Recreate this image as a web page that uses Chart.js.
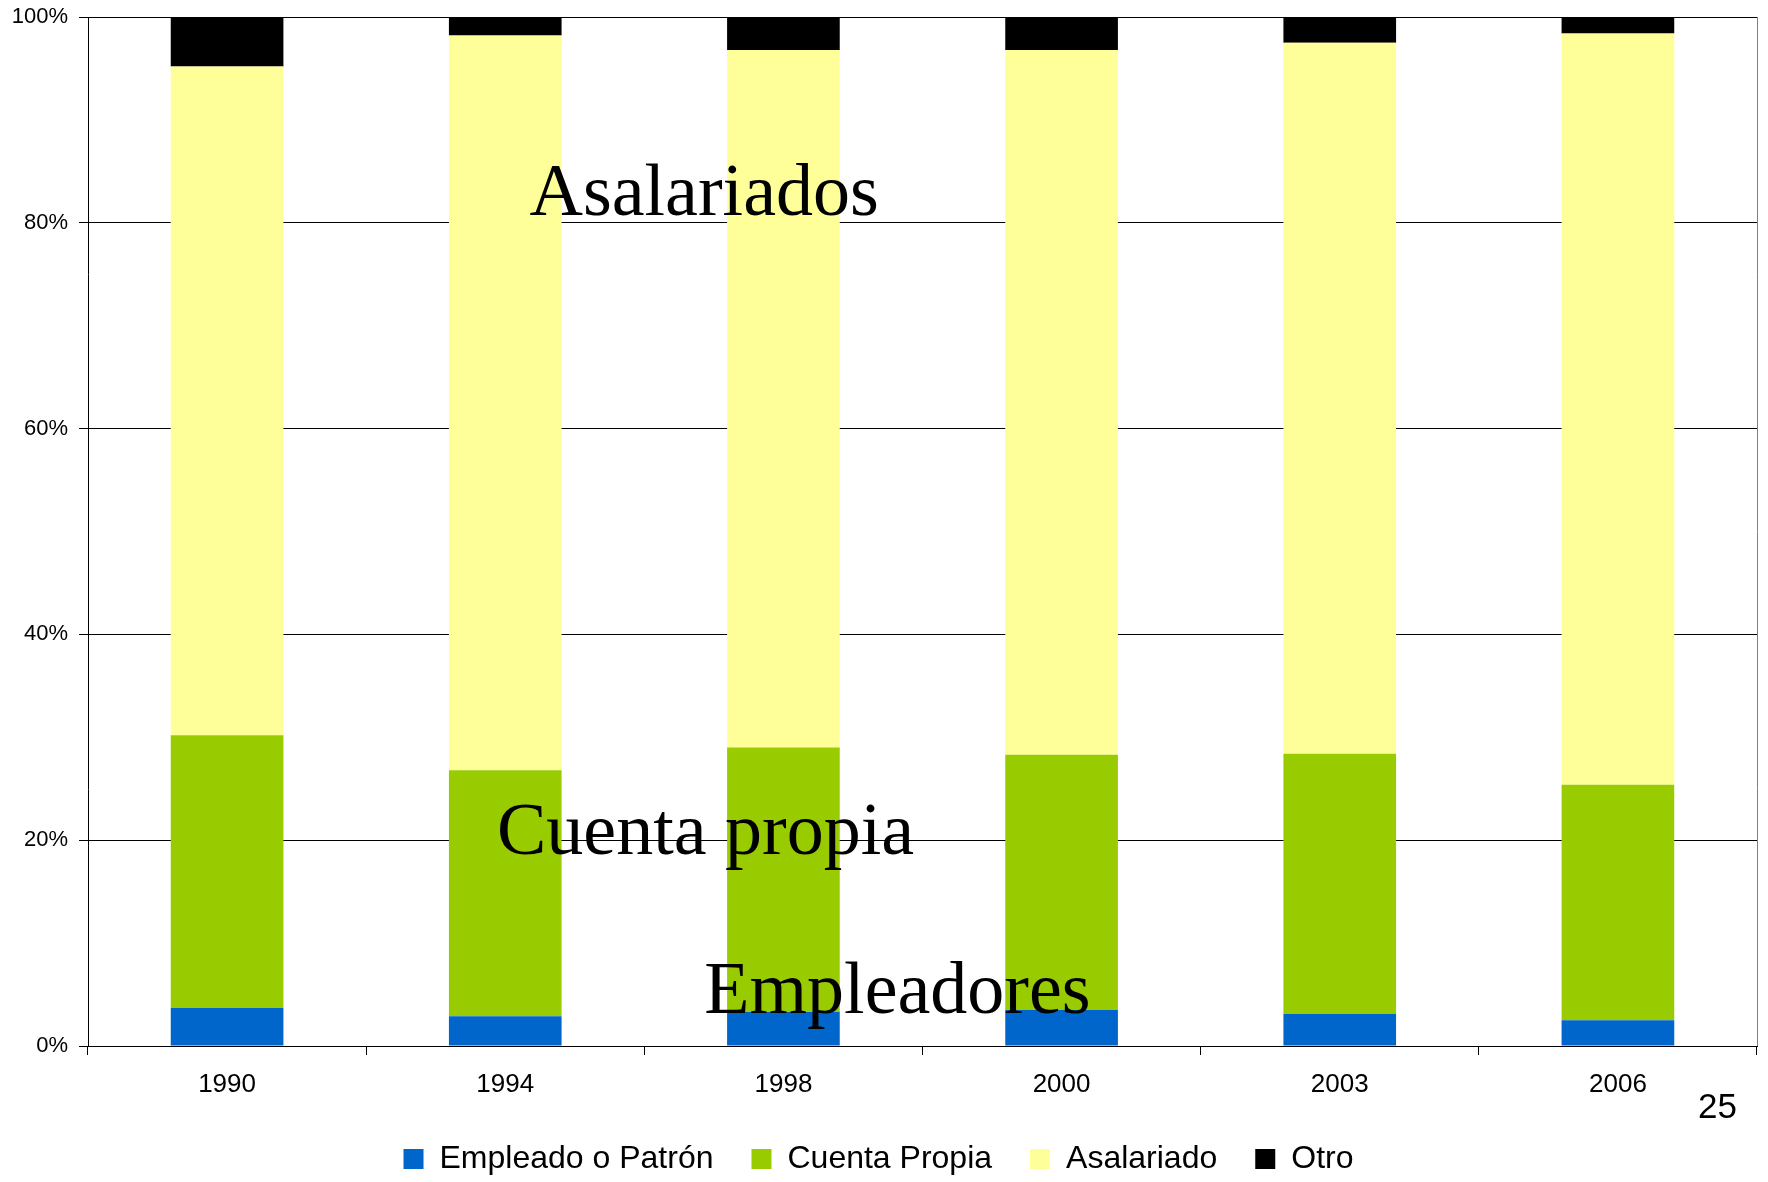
<!DOCTYPE html>
<html>
<head>
<meta charset="utf-8">
<script src="https://cdn.jsdelivr.net/npm/chart.js@4.4.0/dist/chart.umd.min.js"></script>
<style>
html, body { margin: 0; padding: 0; background: #fff; }
</style>
</head>
<body>
<canvas id="barChart" width="1768" height="1182"></canvas>
<script>
// data (percent of total)
const years = ['1990', '1994', '1998', '2000', '2003', '2006'];
const empleado = [3.7, 2.9, 3.3, 3.5, 3.1, 2.5];
const cuentaPropia = [26.5, 23.9, 25.7, 24.8, 25.3, 22.9];
const asalariado = [65.0, 71.4, 67.8, 68.5, 69.1, 73.0];
const otro = [4.8, 1.8, 3.2, 3.2, 2.5, 1.6];
const yTicks = [0, 20, 40, 60, 80, 100];
const notes = ['Asalariados', 'Cuenta propia', 'Empleadores'];
const pageNumber = '25';

// where the big labels sit, in category index / percent
const notePos = [
    { x: 1.715, y: 80.8 },
    { x: 1.72, y: 18.7 },
    { x: 2.41, y: 3.2 }
];

const sans = "'Liberation Sans', Arial, sans-serif";
const serif = "'Liberation Serif', 'Times New Roman', serif";

const extras = {
    id: 'extras',
    afterDatasetsDraw(chart) {
        const ctx = chart.ctx;
        const area = chart.chartArea;
        const xs = chart.scales.x, ys = chart.scales.y;
        ctx.save();
        // right frame line
        ctx.strokeStyle = '#808080';
        ctx.lineWidth = 1;
        ctx.beginPath();
        ctx.moveTo(area.right + 0.5, area.top);
        ctx.lineTo(area.right + 0.5, area.bottom);
        ctx.stroke();
        // big labels
        ctx.fillStyle = '#000';
        ctx.font = '74px ' + serif;
        ctx.textAlign = 'center';
        ctx.textBaseline = 'alphabetic';
        notes.forEach((t, i) => {
            ctx.fillText(t, xs.getPixelForValue(notePos[i].x), ys.getPixelForValue(notePos[i].y));
        });
        // page number
        ctx.font = '35px ' + sans;
        ctx.textAlign = 'right';
        ctx.textBaseline = 'middle';
        ctx.fillText(pageNumber, area.right - 20, area.bottom + 62);
        ctx.restore();
    }
};

const CHART = document.getElementById('barChart');
let barChart = new Chart(CHART, {
    type: 'bar',
    data: {
        labels: years,
        datasets: [
            { label: 'Empleado o Patrón', data: empleado, backgroundColor: '#0066CC' },
            { label: 'Cuenta Propia', data: cuentaPropia, backgroundColor: '#99CC00' },
            { label: 'Asalariado', data: asalariado, backgroundColor: '#FFFF99' },
            { label: 'Otro', data: otro, backgroundColor: '#000000' }
        ]
    },
    options: {
        responsive: false,
        animation: false,
        events: [],
        layout: { padding: { left: 0, right: 11, top: 17, bottom: -3 } },
        datasets: {
            bar: { categoryPercentage: 1, barPercentage: 0.405, borderWidth: 0 }
        },
        plugins: {
            legend: {
                position: 'bottom',
                labels: {
                    color: '#000',
                    font: { family: sans, size: 32 },
                    boxWidth: 20,
                    boxHeight: 20,
                    padding: 38
                }
            },
            tooltip: { enabled: false }
        },
        scales: {
            x: {
                stacked: true,
                afterFit(scale) { scale.height = 59; },
                grid: { drawOnChartArea: false, tickLength: 9, color: '#000', offset: true },
                border: { color: '#000', width: 1 },
                ticks: { color: '#000', font: { family: sans, size: 26 }, padding: 14, maxRotation: 0 }
            },
            y: {
                stacked: true,
                min: 0,
                max: 100,
                afterFit(scale) {
                    scale.width = 88;
                    scale.paddingTop = 0;
                    scale.paddingBottom = 0;
                },
                afterBuildTicks(scale) { scale.ticks = yTicks.map(v => ({ value: v })); },
                grid: { color: '#000', tickLength: 9, lineWidth: 1 },
                border: { color: '#000', width: 1 },
                ticks: {
                    color: '#000',
                    font: { family: sans, size: 22 },
                    padding: 11,
                    callback: v => v + '%'
                }
            }
        }
    },
    plugins: [extras]
});
</script>
</body>
</html>
